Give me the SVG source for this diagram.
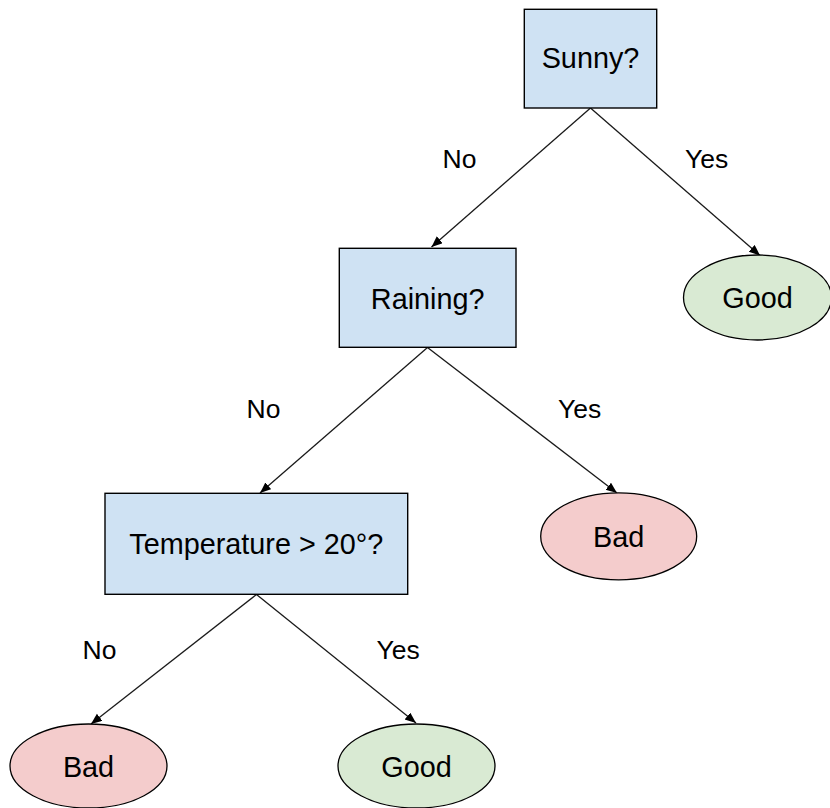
<svg xmlns="http://www.w3.org/2000/svg" width="830" height="808" viewBox="0 0 830 808">
<style>
.box{fill:#cfe2f3;stroke:#000;stroke-width:1.4}
.good{fill:#d9ead3;stroke:#000;stroke-width:1.3}
.bad{fill:#f4cccc;stroke:#000;stroke-width:1.3}
.nt{font-family:"Liberation Sans",Arial,sans-serif;font-size:28.8px;fill:#000;text-anchor:middle}
.lb{font-family:"Liberation Sans",Arial,sans-serif;font-size:26.5px;fill:#000}
.edge{stroke:#1a1a1a;stroke-width:1.3;fill:none;marker-end:url(#ah)}
</style>
<defs>
<marker id="ah" markerUnits="userSpaceOnUse" markerWidth="12" markerHeight="10" refX="11" refY="4.5" orient="auto">
<path d="M0,0 L11,4.5 L0,9 z" fill="#000"/>
</marker>
</defs>
<g id="connectors">
<line class="edge" x1="590.5" y1="108" x2="431.5" y2="247"/>
<line class="edge" x1="590.5" y1="108" x2="760" y2="255.5"/>
<line class="edge" x1="427.5" y1="347.5" x2="260" y2="493"/>
<line class="edge" x1="427.5" y1="347.5" x2="617" y2="493"/>
<line class="edge" x1="256.5" y1="594.5" x2="91" y2="724"/>
<line class="edge" x1="256.5" y1="594.5" x2="416" y2="723"/>
<text class="lb" x="442.5" y="168">No</text>
<text class="lb" x="685" y="168">Yes</text>
<text class="lb" x="246.5" y="418">No</text>
<text class="lb" x="558" y="418">Yes</text>
<text class="lb" x="82.5" y="659">No</text>
<text class="lb" x="376.5" y="659">Yes</text>
</g>
<g id="sunny">
<rect class="box" x="524.3" y="9.3" width="132.4" height="98.7"/>
<text class="nt" x="590.5" y="68.3">Sunny?</text>
</g>
<g id="raining">
<rect class="box" x="339.3" y="248.3" width="176.7" height="99"/>
<text class="nt" x="427.7" y="309">Raining?</text>
</g>
<g id="temperature">
<rect class="box" x="105" y="493.3" width="302.7" height="101"/>
<text class="nt" x="256.3" y="554">Temperature &gt; 20°?</text>
</g>
<g id="good1">
<ellipse class="good" cx="757.5" cy="297.5" rx="74" ry="42.5"/>
<text class="nt" x="757.5" y="307.5">Good</text>
</g>
<g id="bad1">
<ellipse class="bad" cx="618.7" cy="536.3" rx="78" ry="43.5"/>
<text class="nt" x="618.7" y="546.7">Bad</text>
</g>
<g id="bad2">
<ellipse class="bad" cx="88.5" cy="766" rx="78.5" ry="42"/>
<text class="nt" x="88.5" y="777.3">Bad</text>
</g>
<g id="good2">
<ellipse class="good" cx="416.5" cy="766" rx="78.5" ry="42"/>
<text class="nt" x="416.5" y="776.7">Good</text>
</g>
</svg>
